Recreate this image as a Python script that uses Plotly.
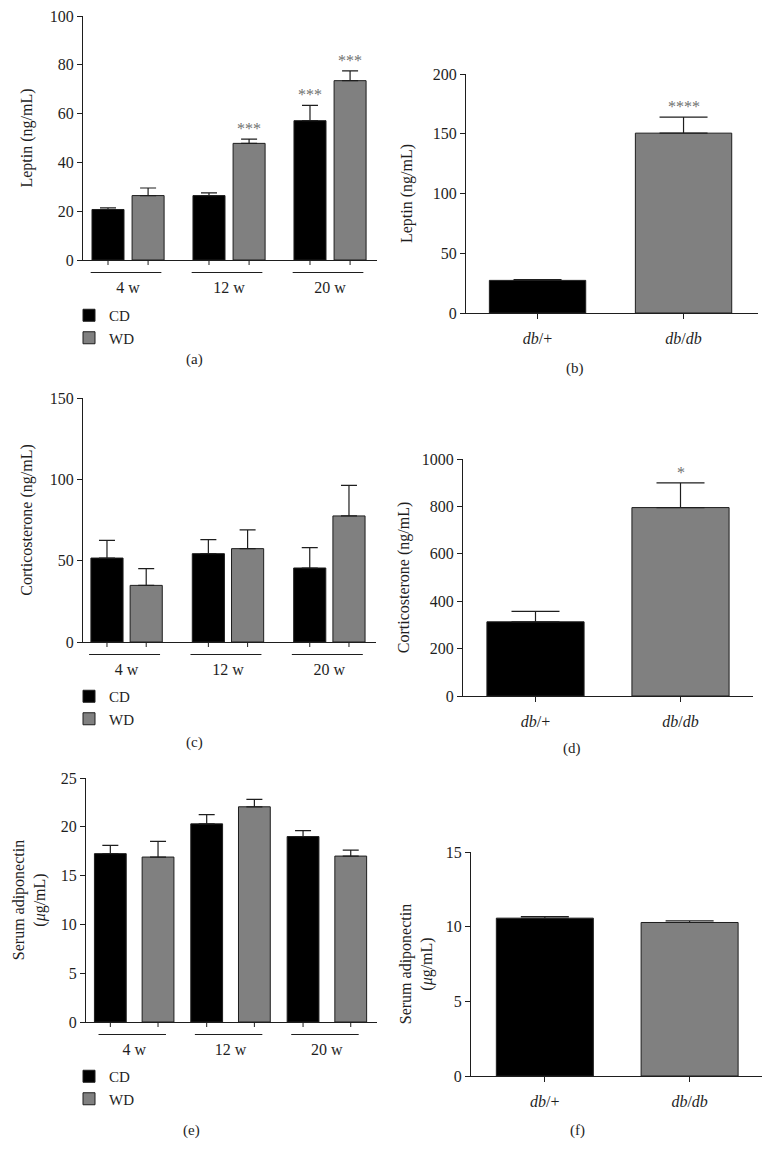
import plotly.graph_objects as go

W, H = 773, 1163

# ---------------- data ----------------
weeks = ["4 w", "12 w", "20 w"]
diets = ["CD", "WD"]
strains = ["db/+", "db/db"]
strain_labels = ["<i>db</i>/+", "<i>db</i>/<i>db</i>"]

leptin_cd = [20.7, 26.4, 57.1]
leptin_cd_err = [0.7, 1.1, 6.3]
leptin_wd = [26.4, 47.8, 73.5]
leptin_wd_err = [3.1, 1.7, 4.0]
leptin_cd_sig = ["", "", "***"]
leptin_wd_sig = ["", "***", "***"]

leptin_db = [27.3, 150.5]
leptin_db_err = [0.6, 13.4]
leptin_db_sig = ["", "****"]

cort_cd = [51.6, 54.3, 45.5]
cort_cd_err = [10.9, 8.6, 12.5]
cort_wd = [34.8, 57.4, 77.5]
cort_wd_err = [10.3, 11.5, 18.8]
cort_cd_sig = ["", "", ""]
cort_wd_sig = ["", "", ""]

cort_db = [313, 795]
cort_db_err = [44, 104]
cort_db_sig = ["", "*"]

adipo_cd = [17.25, 20.3, 19.0]
adipo_cd_err = [0.85, 0.95, 0.6]
adipo_wd = [16.9, 22.05, 17.0]
adipo_wd_err = [1.6, 0.75, 0.6]
adipo_cd_sig = ["", "", ""]
adipo_wd_sig = ["", "", ""]

adipo_db = [10.57, 10.28]
adipo_db_err = [0.11, 0.11]
adipo_db_sig = ["", ""]

# ---------------- style ----------------
FONT = "Liberation Serif"
INK = "#1e1e1e"
CD_COLOR = "#000000"
WD_COLOR = "#808080"
STAR_COLOR = "#707070"
FS = 16


def xdom(x0, x1):
    return [x0 / W, x1 / W]


def ydom(top, bottom):
    return [1 - bottom / H, 1 - top / H]


def xn(k):
    return "x" if k == 1 else f"x{k}"


def yn(k):
    return "y" if k == 1 else f"y{k}"


fig = go.Figure()
layout = dict(
    width=W, height=H, autosize=False,
    margin=dict(l=0, r=0, t=0, b=0, pad=0, autoexpand=False),
    paper_bgcolor="white", plot_bgcolor="white",
    barmode="overlay",
    font=dict(family=FONT, size=FS, color=INK),
    shapes=[], annotations=[],
)


def yaxis_cfg(k, box, ymax, dtick, title, standoff):
    return dict(
        domain=ydom(box[2], box[3]), anchor=xn(k), range=[0, ymax],
        tickmode="linear", tick0=0, dtick=dtick,
        showline=True, linecolor=INK, linewidth=1,
        ticks="outside", ticklen=5, tickcolor=INK, tickwidth=1,
        showgrid=False, zeroline=False, automargin=False,
        tickfont=dict(family=FONT, size=FS, color=INK),
        title=dict(text=title, font=dict(family=FONT, size=FS, color=INK), standoff=standoff),
        fixedrange=True,
    )


def panel_label(text, xy):
    return dict(
        xref="paper", yref="paper", x=xy[0] / W, y=1 - xy[1] / H, text=text,
        xanchor="center", yanchor="middle", showarrow=False,
        font=dict(family=FONT, size=15, color=INK))


grouped = [
    dict(k=1, box=(83, 377, 16, 260), xr=[-0.446, 2.465], bw=0.317, gap=0.08,
         cd=leptin_cd, cde=leptin_cd_err, wd=leptin_wd, wde=leptin_wd_err,
         cds=leptin_cd_sig, wds=leptin_wd_sig, ymax=100, dtick=20,
         title="Leptin (ng/mL)", leg="legend", legy=299, label="(a)", lab=(195, 360), standoff=13),
    dict(k=3, box=(83, 376, 398, 642), xr=[-0.43, 2.46], bw=0.317, gap=0.07,
         cd=cort_cd, cde=cort_cd_err, wd=cort_wd, wde=cort_wd_err,
         cds=cort_cd_sig, wds=cort_wd_sig, ymax=150, dtick=50,
         title="Corticosterone (ng/mL)", leg="legend2", legy=680, label="(c)", lab=(195, 742), standoff=13),
    dict(k=5, box=(86, 377, 778, 1022), xr=[-0.5, 2.52], bw=0.33, gap=0.165,
         cd=adipo_cd, cde=adipo_cd_err, wd=adipo_wd, wde=adipo_wd_err,
         cds=adipo_cd_sig, wds=adipo_wd_sig, ymax=25, dtick=5,
         title="Serum adiponectin<br>(<i>μ</i>g/mL)", leg="legend3", legy=1060, label="(e)", lab=(191, 1130), standoff=11),
]

for p in grouped:
    k = p["k"]
    box = p["box"]
    hpx = box[3] - box[2]
    bw, gap = p["bw"], p["gap"]
    offsets = [-(bw + gap / 2), gap / 2]
    series = [(p["cd"], p["cde"], p["cds"], CD_COLOR, "CD"),
              (p["wd"], p["wde"], p["wds"], WD_COLOR, "WD")]
    for j, (vals, errs, sigs, color, name) in enumerate(series):
        fig.add_trace(go.Bar(
            x=weeks, y=vals, name=name, width=bw, offset=offsets[j],
            marker=dict(color=color, line=dict(color=INK, width=1)),
            error_y=dict(type="data", array=errs, arrayminus=[0] * len(errs), symmetric=False,
                         color=INK, thickness=1.2, width=8),
            xaxis=xn(k), yaxis=yn(k), legend=p["leg"], showlegend=True,
            hoverinfo="skip",
        ))
        for i, s in enumerate(sigs):
            cx = i + offsets[j] + bw / 2
            # small tick under each bar
            layout["shapes"].append(dict(
                type="line", xref=xn(k), yref=f"{yn(k)} domain",
                x0=cx, x1=cx, y0=0, y1=-5 / hpx, line=dict(color=INK, width=1)))
            if s:
                layout["annotations"].append(dict(
                    xref=xn(k), yref=yn(k), x=cx, y=vals[i] + errs[i], text=s,
                    xanchor="center", yanchor="bottom", showarrow=False, yshift=0,
                    font=dict(family=FONT, size=FS, color=STAR_COLOR)))
    # group underline
    for i in range(len(weeks)):
        layout["shapes"].append(dict(
            type="line", xref=xn(k), yref=f"{yn(k)} domain",
            x0=i - 0.37, x1=i + 0.33, y0=-12.5 / hpx, y1=-12.5 / hpx, line=dict(color=INK, width=1)))
    layout[f"xaxis{k}"] = dict(
        domain=xdom(box[0], box[1]), anchor=yn(k), type="category",
        categoryorder="array", categoryarray=weeks, range=p["xr"],
        showline=True, linecolor=INK, linewidth=1, ticks="", showgrid=False, zeroline=False,
        automargin=False,
        tickfont=dict(family=FONT, size=FS, color=INK), ticklabelstandoff=13, fixedrange=True,
    )
    layout[f"yaxis{k}"] = yaxis_cfg(k, box, p["ymax"], p["dtick"], p["title"], p["standoff"])
    layout[p["leg"]] = dict(
        x=69 / W, y=1 - p["legy"] / H, xanchor="left", yanchor="top",
        bgcolor="rgba(0,0,0,0)", font=dict(family=FONT, size=15, color=INK),
        traceorder="normal", tracegroupgap=0, itemclick=False, itemdoubleclick=False,
    )
    layout["annotations"].append(panel_label(p["label"], p["lab"]))

single = [
    dict(k=2, box=(466, 758, 74, 313), xr=[-0.49, 1.51], bw=0.66,
         vals=leptin_db, errs=leptin_db_err, sigs=leptin_db_sig, ymax=200, dtick=50,
         title="Leptin (ng/mL)", label="(b)", lab=(575, 368), standoff=16),
    dict(k=4, box=(463, 753, 459, 696), xr=[-0.5, 1.5], bw=0.67,
         vals=cort_db, errs=cort_db_err, sigs=cort_db_sig, ymax=1000, dtick=200,
         title="Corticosterone (ng/mL)", label="(d)", lab=(572, 748), standoff=8),
    dict(k=6, box=(471, 762, 852, 1076), xr=[-0.51, 1.5], bw=0.67,
         vals=adipo_db, errs=adipo_db_err, sigs=adipo_db_sig, ymax=15, dtick=5,
         title="Serum adiponectin<br>(<i>μ</i>g/mL)", label="(f)", lab=(577, 1130), standoff=9),
]

for p in single:
    k = p["k"]
    box = p["box"]
    fig.add_trace(go.Bar(
        x=strains, y=p["vals"], width=p["bw"],
        marker=dict(color=[CD_COLOR, WD_COLOR], line=dict(color=INK, width=1)),
        error_y=dict(type="data", array=p["errs"], arrayminus=[0] * len(p["errs"]), symmetric=False,
                     color=INK, thickness=1.2, width=24),
        xaxis=xn(k), yaxis=yn(k), showlegend=False, hoverinfo="skip",
    ))
    for i, s in enumerate(p["sigs"]):
        if s:
            layout["annotations"].append(dict(
                xref=xn(k), yref=yn(k), x=i, y=p["vals"][i] + p["errs"][i], text=s,
                xanchor="center", yanchor="bottom", showarrow=False, yshift=0,
                font=dict(family=FONT, size=FS, color=STAR_COLOR)))
    layout[f"xaxis{k}"] = dict(
        domain=xdom(box[0], box[1]), anchor=yn(k), type="category",
        categoryorder="array", categoryarray=strains, range=p["xr"],
        tickvals=strains, ticktext=strain_labels,
        showline=True, linecolor=INK, linewidth=1, ticks="outside", ticklen=5,
        tickcolor=INK, showgrid=False, zeroline=False, automargin=False,
        tickfont=dict(family=FONT, size=FS, color=INK), ticklabelstandoff=6, fixedrange=True,
    )
    layout[f"yaxis{k}"] = yaxis_cfg(k, box, p["ymax"], p["dtick"], p["title"], p["standoff"])
    layout["annotations"].append(panel_label(p["label"], p["lab"]))

fig.update_layout(**layout)
fig.write_html("out.html", config={"displayModeBar": False, "responsive": False},
               post_script="document.body.style.margin='0';")
